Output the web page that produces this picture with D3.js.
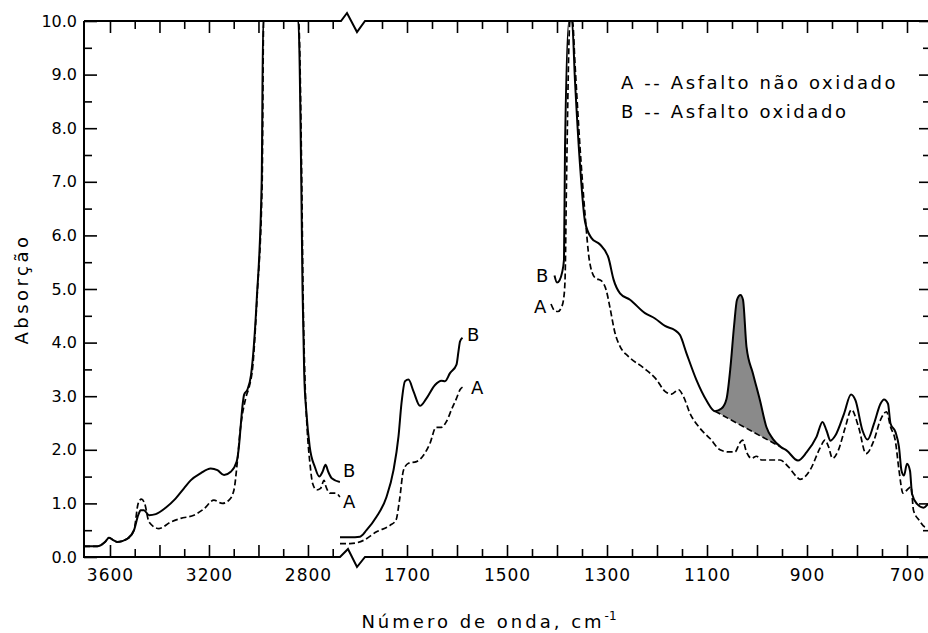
<!DOCTYPE html>
<html>
<head>
<meta charset="utf-8">
<script src="https://cdn.jsdelivr.net/npm/d3@7"></script>
<style>
  body { margin: 0; background: #fff; }
  svg text { font-family: "DejaVu Sans", sans-serif; fill: #000; }
</style>
</head>
<body>
<div id="chart"></div>
<script>
// [wavenumber cm-1, absorbance]
var bStretch = [[3705,0.20],[3651,0.20],[3620,0.28],[3604,0.36],[3585,0.31],[3570,0.28],[3530,0.34],[3503,0.50],[3486,0.78],[3476,0.87],[3463,0.87],[3442,0.78],[3415,0.80],[3375,0.92],[3335,1.09],[3301,1.28],[3274,1.43],[3234,1.56],[3193,1.65],[3166,1.62],[3139,1.53],[3112,1.59],[3088,1.78],[3079,2.06],[3072,2.43],[3065,2.80],[3058,3.03],[3045,3.12],[3030,3.40],[3007,4.80],[2987,7.0],[2981,10],[2839,10],[2827,7.0],[2822,5.0],[2815,3.4],[2806,2.68],[2793,2.06],[2772,1.68],[2754,1.50],[2741,1.59],[2729,1.72],[2718,1.59],[2704,1.47],[2671,1.40]];
var aStretch = [[3705,0.20],[3651,0.20],[3620,0.28],[3604,0.36],[3585,0.31],[3570,0.28],[3530,0.34],[3503,0.50],[3486,1.00],[3473,1.08],[3460,1.00],[3442,0.65],[3402,0.53],[3355,0.65],[3314,0.72],[3261,0.78],[3220,0.90],[3180,1.06],[3146,1.00],[3119,1.06],[3099,1.25],[3086,1.75],[3075,2.31],[3050,2.99],[3037,3.18],[3023,3.56],[3005,4.9],[2985,7.0],[2979,10],[2838,10],[2825,7.0],[2820,5.0],[2812,3.3],[2803,2.37],[2792,1.75],[2781,1.37],[2765,1.25],[2749,1.28],[2735,1.43],[2727,1.31],[2711,1.19],[2687,1.19],[2671,1.12]];
var bCarbonyl = [[1834,0.37],[1814,0.37],[1794,0.38],[1781,0.50],[1761,0.75],[1741,1.12],[1727,1.62],[1717,2.25],[1711,2.87],[1704,3.28],[1697,3.31],[1687,3.09],[1674,2.82],[1661,2.96],[1644,3.21],[1631,3.29],[1624,3.28],[1614,3.43],[1601,3.59],[1597,3.84],[1594,4.02],[1589,4.09]];
var aCarbonyl = [[1834,0.25],[1814,0.25],[1787,0.31],[1761,0.47],[1734,0.59],[1722,0.69],[1715,1.06],[1707,1.62],[1697,1.75],[1681,1.78],[1667,1.90],[1654,2.12],[1642,2.42],[1631,2.42],[1621,2.53],[1611,2.75],[1601,2.96],[1594,3.12],[1587,3.18]];
var bFinger = [[1405,5.25],[1400,5.12],[1395,5.16],[1390,5.30],[1386,5.55],[1384,7.6],[1376,10],[1370,10],[1364,8.88],[1354,7.32],[1344,6.26],[1331,5.95],[1314,5.83],[1297,5.58],[1287,5.18],[1274,4.92],[1254,4.80],[1224,4.55],[1204,4.45],[1184,4.31],[1164,4.23],[1154,4.14],[1141,3.80],[1121,3.30],[1101,2.92],[1084,2.72],[1071,2.77],[1061,2.95],[1053,3.55],[1046,4.30],[1040,4.80],[1033,4.89],[1028,4.80],[1021,3.92],[1008,3.42],[994,2.92],[981,2.42],[968,2.20],[952,2.05],[941,1.99],[918,1.80],[901,1.95],[881,2.24],[869,2.52],[861,2.36],[853,2.17],[843,2.27],[826,2.67],[812,3.03],[803,2.92],[789,2.36],[779,2.19],[766,2.49],[753,2.86],[746,2.94],[738,2.86],[733,2.49],[723,2.33],[716,2.05],[711,1.61],[706,1.52],[700,1.74],[694,1.61],[690,1.18],[680,0.99],[667,0.92],[658,0.99]];
var aFinger = [[1412,4.72],[1405,4.60],[1398,4.58],[1391,4.66],[1387,4.80],[1384,5.15],[1381,7.0],[1374,10],[1369,10],[1364,9.2],[1354,7.65],[1344,6.40],[1335,5.52],[1324,5.21],[1311,5.15],[1301,4.96],[1294,4.65],[1284,4.18],[1274,3.93],[1257,3.74],[1227,3.53],[1201,3.31],[1184,3.09],[1171,3.04],[1157,3.12],[1147,2.99],[1134,2.68],[1114,2.40],[1094,2.21],[1074,2.00],[1057,1.96],[1044,1.96],[1035,2.12],[1029,2.18],[1021,1.96],[1011,1.84],[1001,1.88],[991,1.81],[974,1.81],[954,1.81],[937,1.68],[921,1.50],[914,1.45],[894,1.62],[874,2.03],[864,2.18],[857,2.06],[849,1.84],[837,2.00],[824,2.40],[811,2.75],[797,2.43],[782,1.93],[766,2.18],[753,2.56],[741,2.71],[733,2.43],[723,2.15],[716,1.62],[708,1.19],[700,1.25],[692,1.31],[687,0.87],[676,0.69],[663,0.56],[658,0.56]];
// straight baseline under the 1030 cm-1 band (shaded area)
var bandBase = [[1084,2.72],[952,2.05]];

var absTicks = [0,1,2,3,4,5,6,7,8,9,10];
var leftLabels = [3600,3200,2800];
var rightLabels = [1700,1500,1300,1100,900,700];
var legendLines = ["A -- Asfalto não oxidado", "B -- Asfalto oxidado"];

var width = 928, height = 633;
var x0 = 84, x1 = 929, yTop = 21, yBot = 557;

var svg = d3.select("#chart").append("svg")
    .attr("width", width)
    .attr("height", height);

var y = d3.scaleLinear().domain([0, 10]).range([yBot, yTop]);
var xL = d3.scaleLinear().domain([3705, 2620]).range([x0, 352.5]);
var xR = d3.scaleLinear().domain([1810, 658]).range([352, 928]);

// ticks
var leftMajor = d3.range(3600, 2799, -200);
var leftMinor = d3.range(3500, 2699, -200);
var rightMajor = d3.range(1700, 699, -100);
var rightMinor = d3.range(1750, 749, -100);
var absMinor = d3.range(0.5, 10, 1);

function fmtOnly(list) {
    return function (d) { return list.indexOf(d) >= 0 ? d : ""; };
}

function drawX(scale, major, minor, labels) {
    var gb = svg.append("g").attr("transform", `translate(0,${yBot})`);
    gb.call(d3.axisBottom(scale).tickValues(major).tickSizeInner(-12).tickSizeOuter(0)
        .tickPadding(12).tickFormat(fmtOnly(labels)));
    var gbm = svg.append("g").attr("transform", `translate(0,${yBot})`);
    gbm.call(d3.axisBottom(scale).tickValues(minor).tickSizeInner(-8).tickSizeOuter(0).tickFormat(""));
    var gt = svg.append("g").attr("transform", `translate(0,${yTop})`);
    gt.call(d3.axisTop(scale).tickValues(major).tickSizeInner(-12).tickSizeOuter(0).tickFormat(""));
    var gtm = svg.append("g").attr("transform", `translate(0,${yTop})`);
    gtm.call(d3.axisTop(scale).tickValues(minor).tickSizeInner(-8).tickSizeOuter(0).tickFormat(""));
    [gb, gbm, gt, gtm].forEach(g => {
        g.select(".domain").remove();
        g.selectAll("line").attr("stroke", "#000").attr("stroke-width", 1.6);
        g.selectAll("text").style("font-size", "17px").attr("letter-spacing", 1);
    });
}
drawX(xL, leftMajor, leftMinor, leftLabels);
drawX(xR, rightMajor, rightMinor, rightLabels);

var gl = svg.append("g").attr("transform", `translate(${x0},0)`)
    .call(d3.axisLeft(y).tickValues(absTicks).tickSizeInner(-13).tickSizeOuter(0)
        .tickPadding(7).tickFormat(d3.format(".1f")));
var glm = svg.append("g").attr("transform", `translate(${x0},0)`)
    .call(d3.axisLeft(y).tickValues(absMinor).tickSizeInner(-8).tickSizeOuter(0).tickFormat(""));
var gr = svg.append("g").attr("transform", `translate(${x1},0)`)
    .call(d3.axisRight(y).tickValues(absTicks).tickSizeInner(-10).tickSizeOuter(0).tickFormat(""));
var grm = svg.append("g").attr("transform", `translate(${x1},0)`)
    .call(d3.axisRight(y).tickValues(absMinor).tickSizeInner(-6).tickSizeOuter(0).tickFormat(""));
[gl, glm, gr, grm].forEach(g => {
    g.select(".domain").remove();
    g.selectAll("line").attr("stroke", "#000").attr("stroke-width", 1.6);
    g.selectAll("text").style("font-size", "16px");
});

// frame with axis-break zigzags
var frame = d3.path();
frame.moveTo(x0, yTop); frame.lineTo(x0, yBot);
frame.lineTo(340, yBot); frame.lineTo(348, yBot - 8); frame.lineTo(357, yBot + 10); frame.lineTo(365, yBot);
frame.lineTo(x1, yBot);
frame.moveTo(x0, yTop);
frame.lineTo(341, yTop); frame.lineTo(347, yTop - 8); frame.lineTo(357, yTop + 11); frame.lineTo(365, yTop);
frame.lineTo(x1, yTop);
svg.append("path").attr("d", frame.toString())
    .attr("fill", "none").attr("stroke", "#000").attr("stroke-width", 2);

// shaded band
var baseAt = d3.scaleLinear().domain(bandBase.map(d => d[0])).range(bandBase.map(d => d[1]));
var bandPts = bFinger.filter(d => d[0] <= bandBase[0][0] && d[0] >= bandBase[1][0]);
svg.append("path")
    .attr("d", d3.area()
        .x(d => xR(d[0]))
        .y0(d => y(baseAt(d[0])))
        .y1(d => y(d[1]))
        .curve(d3.curveMonotoneX)(bandPts))
    .attr("fill", "#8a8a8a");
svg.append("path")
    .attr("d", d3.line().x(d => xR(d[0])).y(d => y(d[1]))(bandBase))
    .attr("fill", "none").attr("stroke", "#000").attr("stroke-width", 1.6)
    .attr("stroke-dasharray", "6,3");

function spectrum(data, scale, dashed) {
    svg.append("path")
        .attr("d", d3.line().x(d => scale(d[0])).y(d => y(d[1])).curve(d3.curveMonotoneX)(data))
        .attr("fill", "none")
        .attr("stroke", "#000")
        .attr("stroke-width", dashed ? 1.7 : 2)
        .attr("stroke-dasharray", dashed ? "6,3" : null);
}
spectrum(aStretch, xL, true);
spectrum(bStretch, xL, false);
spectrum(aCarbonyl, xR, true);
spectrum(bCarbonyl, xR, false);
spectrum(aFinger, xR, true);
spectrum(bFinger, xR, false);

// curve labels
var curveTags = [
    {t: "B", x: 343, y: 477}, {t: "A", x: 343, y: 508},
    {t: "B", x: 467, y: 341}, {t: "A", x: 471, y: 394},
    {t: "B", x: 536, y: 282}, {t: "A", x: 534, y: 313}
];
svg.selectAll(".tag").data(curveTags).enter().append("text")
    .attr("class", "tag")
    .attr("x", d => d.x).attr("y", d => d.y)
    .style("font-size", "18px")
    .text(d => d.t);

// legend
svg.selectAll(".leg").data(legendLines).enter().append("text")
    .attr("class", "leg")
    .attr("x", 621)
    .attr("y", (d, i) => 89 + i * 29)
    .attr("letter-spacing", 2.6)
    .style("font-size", "18px")
    .text(d => d);

// axis titles
var xt = svg.append("text")
    .attr("x", 489).attr("y", 628)
    .attr("text-anchor", "middle")
    .attr("letter-spacing", 3)
    .style("font-size", "18px");
xt.append("tspan").text("Número de onda, cm");
xt.append("tspan").attr("dy", -8).style("font-size", "12px").attr("letter-spacing", 0).text("-1");

svg.append("text")
    .attr("transform", "translate(28,289) rotate(-90)")
    .attr("text-anchor", "middle")
    .attr("letter-spacing", 3.5)
    .style("font-size", "18px")
    .text("Absorção");
</script>
</body>
</html>
